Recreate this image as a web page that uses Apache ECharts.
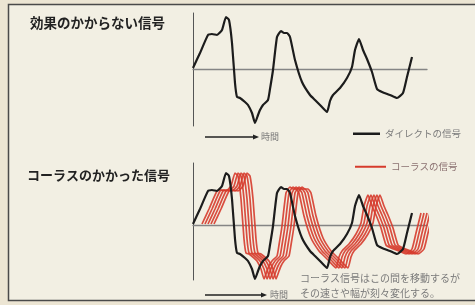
<!DOCTYPE html>
<html>
<head>
<meta charset="utf-8">
<script src="https://cdn.jsdelivr.net/npm/echarts@6/dist/echarts.min.js"></script>
<style>
  html, body { margin: 0; padding: 0; background: #ece5d3; }
  #chart { width: 475px; height: 305px; }
</style>
</head>
<body>
<div id="chart"></div>
<script>
// time axis (px-ish units from the vertical axis) and signal level
const signalT = [0, 7, 15, 19, 24, 29, 33, 36, 39, 42, 44, 47, 52, 55, 59, 62, 65, 67, 70, 75, 77, 80, 84, 88, 91, 94, 97, 102, 109, 117, 122, 127, 134, 137, 140, 147, 154, 159, 162, 166, 170, 174, 179, 184, 189, 197, 204, 210, 214, 219]
const signalV = [1, 16, 34, 35, 34, 39, 52, 49, 26, -14, -28, -29, -33, -36, -44, -54, -46, -41, -36, -31, -20, -1, 32, 38, 36, 36, 32, 9, -13, -26, -31, -36, -43, -32, -26, -19, -9, 2, 19, 30, 19, 10, -3, -20, -23, -26, -29, -24, -8, 12]
// delays of the chorus copies
const chorusDelays = [9, 12, 15, 18, 21]

const directName = 'ダイレクトの信号'
const chorusName = 'コーラスの信号'

const FONT = '"Noto Sans CJK JP", "Noto Sans", sans-serif'

const direct = signalT.map((t, i) => [t, signalV[i]])

const axisBase = {
  splitLine: { show: false },
  axisTick: { show: false },
  axisLabel: { show: false }
}

const chart = echarts.init(document.getElementById('chart'))

const chorusSeries = chorusDelays.map(d => ({
  name: chorusName,
  type: 'line',
  xAxisIndex: 1,
  yAxisIndex: 1,
  clip: false,
  smooth: 0.15,
  symbol: 'none',
  z: 3,
  itemStyle: { color: '#d63b2c' },
  lineStyle: { color: '#d63b2c', width: 1.7, opacity: 0.9 },
  data: signalT.map((t, i) => [t + d, signalV[i]])
}))

const option = {
  animation: false,
  backgroundColor: 'transparent',
  grid: [
    { left: 193, top: 13, width: 234, height: 113 },
    { left: 193, top: 163, width: 234, height: 117 }
  ],
  xAxis: [
    { type: 'value', gridIndex: 0, min: 0, max: 234, ...axisBase,
      axisLine: { onZero: true, lineStyle: { color: '#858585', width: 1.3 } } },
    { type: 'value', gridIndex: 1, min: 0, max: 234, ...axisBase,
      axisLine: { onZero: true, lineStyle: { color: '#858585', width: 1.3 } } }
  ],
  yAxis: [
    { type: 'value', gridIndex: 0, min: -57, max: 56, ...axisBase,
      axisLine: { show: true, lineStyle: { color: '#555', width: 1 } } },
    { type: 'value', gridIndex: 1, min: -55, max: 62, ...axisBase,
      axisLine: { show: true, lineStyle: { color: '#555', width: 1 } } }
  ],
  legend: [
    {
      data: [directName], left: 353, top: 129, padding: 0,
      icon: 'rect', itemWidth: 27, itemHeight: 2.5, itemGap: 6,
      selectedMode: false,
      textStyle: { fontFamily: FONT, fontSize: 9.5, color: '#7a7a7a' }
    },
    {
      data: [chorusName], left: 355, top: 162, padding: 0,
      icon: 'rect', itemWidth: 31, itemHeight: 2, itemGap: 6,
      selectedMode: false,
      textStyle: { fontFamily: FONT, fontSize: 9.5, color: '#8a7070' }
    }
  ],
  graphic: [
    // frame
    { type: 'rect', z: -10, silent: true,
      shape: { x: 8.5, y: 4.5, width: 480, height: 296 },
      style: { fill: '#f2efe3', stroke: '#4a4a4a', lineWidth: 1.5 } },
    // titles
    { type: 'text', left: 30, top: 16,
      style: { text: '効果のかからない信号', font: 'bold 13.5px ' + FONT, fill: '#222' } },
    { type: 'text', left: 27, top: 169,
      style: { text: 'コーラスのかかった信号', font: 'bold 13px ' + FONT, fill: '#222' } },
    // time arrows
    { type: 'line', shape: { x1: 205, y1: 137, x2: 254, y2: 137 },
      style: { stroke: '#222', lineWidth: 1.6 } },
    { type: 'polygon', shape: { points: [[253, 134.5], [259, 137], [253, 139.5]] },
      style: { fill: '#222' } },
    { type: 'text', left: 261, top: 132,
      style: { text: '時間', font: '9px ' + FONT, fill: '#777' } },
    { type: 'line', shape: { x1: 205, y1: 295, x2: 262, y2: 295 },
      style: { stroke: '#222', lineWidth: 1.6 } },
    { type: 'polygon', shape: { points: [[261, 292.5], [267, 295], [261, 297.5]] },
      style: { fill: '#222' } },
    { type: 'text', left: 270, top: 290,
      style: { text: '時間', font: '9px ' + FONT, fill: '#777' } },
    // note
    { type: 'text', left: 300, top: 273,
      style: { text: 'コーラス信号はこの間を移動するが', font: '10px ' + FONT, fill: '#7a7a7a' } },
    { type: 'text', left: 300, top: 288,
      style: { text: 'その速さや幅が刻々変化する。', font: '10px ' + FONT, fill: '#7a7a7a' } }
  ],
  series: [
    {
      name: directName,
      type: 'line',
      xAxisIndex: 0,
      yAxisIndex: 0,
      smooth: 0.15,
      symbol: 'none',
      z: 5,
      itemStyle: { color: '#1c1c1c' },
      lineStyle: { color: '#1c1c1c', width: 2.2 },
      data: direct
    },
    ...chorusSeries,
    {
      name: directName,
      type: 'line',
      xAxisIndex: 1,
      yAxisIndex: 1,
      smooth: 0.15,
      symbol: 'none',
      z: 5,
      itemStyle: { color: '#1c1c1c' },
      lineStyle: { color: '#1c1c1c', width: 2.2 },
      data: direct
    }
  ]
}

chart.setOption(option)
</script>
</body>
</html>
